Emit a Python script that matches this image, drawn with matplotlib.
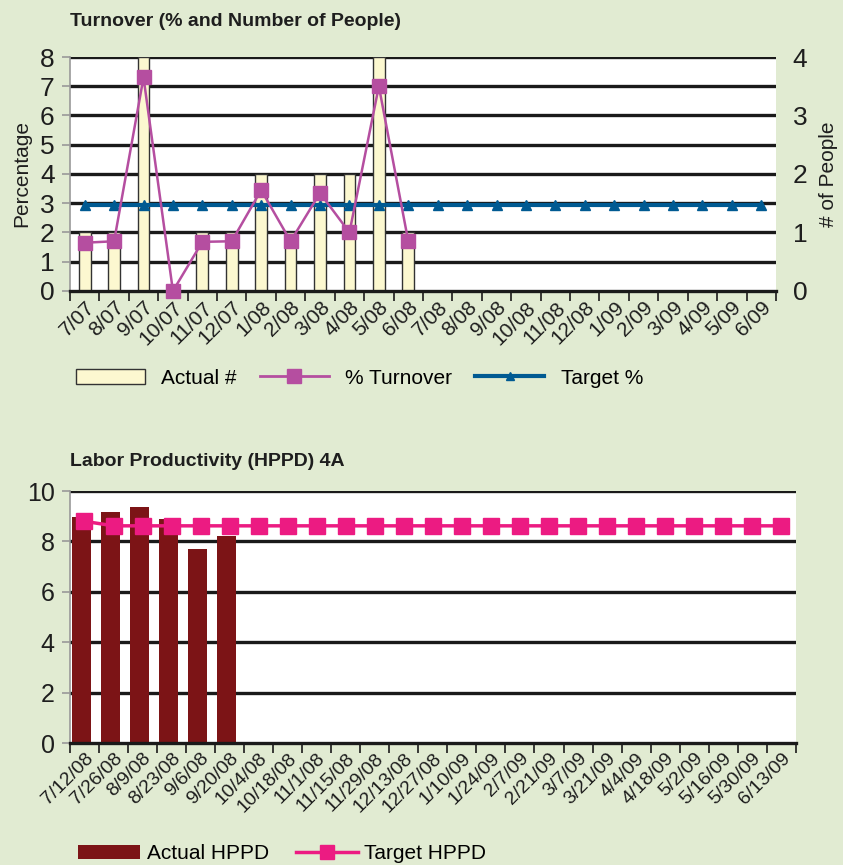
import matplotlib.pyplot as plt
import numpy as np
from matplotlib.patches import Patch
from matplotlib.lines import Line2D

plt.rcParams['font.family'] = ['Liberation Sans', 'DejaVu Sans']

# turnover chart data
months = ['7/07', '8/07', '9/07', '10/07', '11/07', '12/07', '1/08', '2/08', '3/08',
          '4/08', '5/08', '6/08', '7/08', '8/08', '9/08', '10/08', '11/08', '12/08',
          '1/09', '2/09', '3/09', '4/09', '5/09', '6/09']
actual_people = [1, 1, 4, 0, 1, 1, 2, 1, 2, 2, 4, 1]
pct_turnover = [1.65, 1.7, 7.3, 0, 1.68, 1.7, 3.45, 1.7, 3.35, 2.0, 7.0, 1.7]
target_pct = [2.95] * 24

# labor productivity data
weeks = ['7/12/08', '7/26/08', '8/9/08', '8/23/08', '9/6/08', '9/20/08', '10/4/08',
         '10/18/08', '11/1/08', '11/15/08', '11/29/08', '12/13/08', '12/27/08',
         '1/10/09', '1/24/09', '2/7/09', '2/21/09', '3/7/09', '3/21/09', '4/4/09',
         '4/18/09', '5/2/09', '5/16/09', '5/30/09', '6/13/09']
actual_hppd = [8.97, 9.18, 9.35, 8.88, 7.72, 8.22]
target_hppd = [8.8] + [8.62] * 24

bg = '#e1ebd2'
txt = '#1e1e1e'
fig = plt.figure(figsize=(8.43, 8.65), dpi=100, facecolor=bg)

def style_axes(ax, n, ymax, ystep):
    ax.set_facecolor('white')
    ax.set_xlim(-0.5, n - 0.5)
    ax.set_ylim(0, ymax)
    ax.set_yticks(np.arange(0, ymax + 0.01, ystep))
    for y in np.arange(ystep, ymax + 0.01, ystep):
        ax.axhline(y, color='#1a1a1a', lw=2.4, zorder=0.6)
    for s in ['top', 'right']:
        ax.spines[s].set_visible(False)
    ax.spines['left'].set_color('#999999')
    ax.spines['left'].set_linewidth(1.2)
    ax.spines['bottom'].set_color('#1a1a1a')
    ax.spines['bottom'].set_linewidth(2.4)
    ax.set_xticks(np.arange(-0.5, n, 1.0))
    ax.set_xticklabels([])
    ax.tick_params(axis='x', which='major', length=7, width=1.2, color='#1a1a1a', direction='out')
    ax.set_xticks(np.arange(n), minor=True)
    ax.tick_params(axis='x', which='minor', length=0, pad=5)
    ax.tick_params(axis='y', length=6, width=1.2, color='#999999', pad=5)

# ---- top chart ----
ax1 = fig.add_axes([0.083, 0.6636, 0.8375, 0.2705])
style_axes(ax1, len(months), 8, 1)
ax1.set_xticklabels(months, minor=True, rotation=45, ha='right', va='top',
                    rotation_mode='anchor', fontsize=15, color=txt)
ax1.tick_params(axis='y', labelsize=19, labelcolor=txt)
ax1.set_ylabel('Percentage', fontsize=15, color=txt, labelpad=6)

ax1r = ax1.twinx()
ax1r.set_ylim(0, 4)
ax1r.set_yticks([0, 1, 2, 3, 4])
ax1r.tick_params(axis='y', length=0, labelsize=19, labelcolor=txt, pad=12)
for s in ax1r.spines.values():
    s.set_visible(False)
ax1r.set_ylabel('# of People', fontsize=15, color=txt, labelpad=8)

ax1.bar(np.arange(len(actual_people)), np.array(actual_people) * 2, width=0.4,
        color='#fcf8d0', edgecolor='#333333', linewidth=1.0, zorder=2)
ax1.plot(np.arange(len(target_pct)), target_pct, color='#005a92', lw=3,
         marker='^', markersize=7, zorder=3)
ax1.plot(np.arange(len(pct_turnover)), pct_turnover, color='#b54ea0', lw=1.8,
         marker='s', markersize=10, zorder=4, clip_on=False)
ax1r.set_zorder(ax1.get_zorder() - 1)
ax1.patch.set_visible(True)

fig.text(0.083, 0.975, 'Turnover (% and Number of People)', fontsize=14,
         fontweight='bold', color=txt, va='center')

h1 = [Patch(facecolor='#fcf8d0', edgecolor='#333333', lw=1.0),
      Line2D([], [], color='#b54ea0', lw=2, marker='s', markersize=10),
      Line2D([], [], color='#005a92', lw=3, marker='^', markersize=6)]
fig.legend(h1, ['Actual #', '% Turnover', 'Target %'], loc='center left',
           bbox_to_anchor=(0.068, 0.563), ncol=3, frameon=False, fontsize=15,
           handlelength=3.3, columnspacing=1.1, handletextpad=0.8)

# ---- bottom chart ----
ax2 = fig.add_axes([0.083, 0.141, 0.861, 0.2913])
style_axes(ax2, len(weeks), 10, 2)
ax2.set_xticklabels(weeks, minor=True, rotation=45, ha='right', va='top',
                    rotation_mode='anchor', fontsize=14, color=txt)
ax2.tick_params(axis='y', labelsize=18, labelcolor=txt)

ax2.bar(np.arange(len(actual_hppd)) - 0.1, actual_hppd, width=0.66, color='#7c1416', zorder=2)
ax2.plot(np.arange(len(target_hppd)), target_hppd, color='#ec1b82', lw=2.5,
         marker='s', markersize=11, zorder=3)

fig.text(0.083, 0.466, 'Labor Productivity (HPPD) 4A', fontsize=14,
         fontweight='bold', color=txt, va='center')

h2 = [Patch(facecolor='#7c1416'),
      Line2D([], [], color='#ec1b82', lw=2.5, marker='s', markersize=10)]
fig.legend(h2, ['Actual HPPD', 'Target HPPD'], loc='center left',
           bbox_to_anchor=(0.07, 0.013), ncol=2, frameon=False, fontsize=15,
           handlelength=3.0, columnspacing=1.3, handletextpad=0.3)

fig.savefig('out.png', dpi=100, facecolor=bg)
